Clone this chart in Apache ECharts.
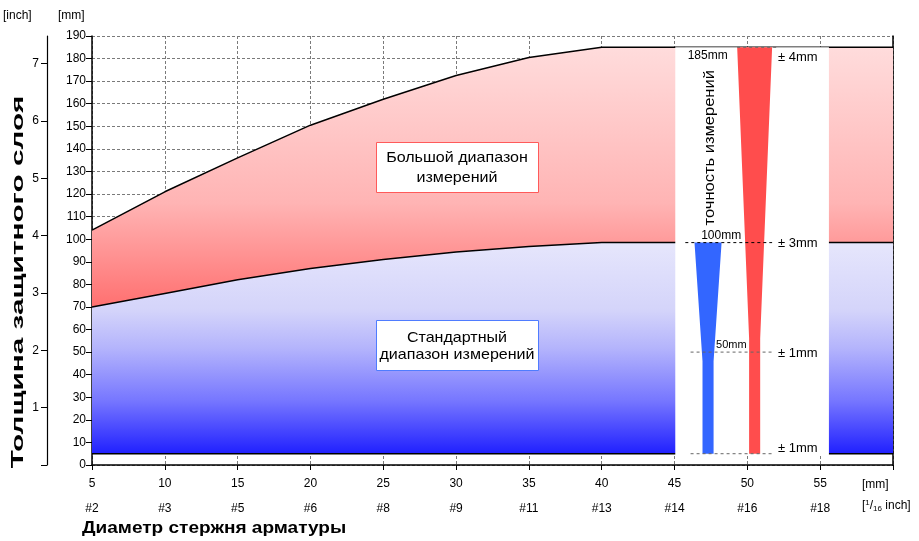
<!DOCTYPE html>
<html><head><meta charset="utf-8">
<script src="https://cdn.jsdelivr.net/npm/echarts@6/dist/echarts.min.js"></script>
<style>html,body{margin:0;padding:0;background:#fff}#c{width:919px;height:541px}</style>
</head><body><div id="c"></div>
<script>
// ---- data ----
const diameters   = [5, 10, 15, 20, 25, 30, 35, 40, 45, 50, 55, 60];
const upperLimit  = [104, 121, 136, 150.5, 162, 172.5, 180.5, 185, 185, 185, 185, 185];
const lowerLimit  = [70, 76, 82, 87, 91, 94.3, 96.8, 98.5, 98.5, 98.5, 98.5, 98.5];
const baseLimit   = [5, 5, 5, 5, 5, 5, 5, 5, 5, 5, 5, 5];
const mmTicks     = [5, 10, 15, 20, 25, 30, 35, 40, 45, 50, 55];
const barSizeLabels = ['#2', '#3', '#5', '#6', '#8', '#9', '#11', '#13', '#14', '#16', '#18'];
const inchTicks   = [0, 1, 2, 3, 4, 5, 6, 7];
const mmPerInch   = 25.4;
const accuracyDepths = [185, 98.5, 50, 5];
const accuracyLabels = ['± 4mm', '± 3mm', '± 1mm', '± 1mm'];
const depthLabels    = ['185mm', '100mm', '50mm'];
// taper profiles: [depth (mm), half width (mm of x axis)]
const stdTaper   = [[98.5, 0.93], [46, 0.38], [5, 0.38]];
const largeTaper = [[185, 1.2], [56, 0.38], [5, 0.38]];
const stdCenter = 47.3, largeCenter = 50.5;
const panelX = [45.05, 55.6], panelY = [4.4, 185];
const dashRanges = [[49.3, 52.0], [45.74, 51.7], [46.1, 51.7], [46.1, 51.7]];

const FONT = '"Liberation Sans", Arial, sans-serif';
const chart = echarts.init(document.getElementById('c'), null, {renderer: 'canvas'});

function bandSeries(name, top, bottom, stops) {
  return {
    name: name, type: 'custom', z: 2, clip: false,
    data: [[diameters[0], top[0]]],
    renderItem: function (params, api) {
      const pts = diameters.map((d, i) => api.coord([d, top[i]]))
        .concat(diameters.map((d, i) => api.coord([d, bottom[i]])).reverse());
      return {type: 'polygon', shape: {points: pts},
        style: {fill: new echarts.graphic.LinearGradient(0, 0, 0, 1, stops)}};
    }
  };
}
function boundary(name, arr) {
  return {name: name, type: 'line', z: 3, symbol: 'none', data: diameters.map((d, i) => [d, arr[i]]),
    lineStyle: {color: '#000', width: 1.5}};
}
function taperPoly(api, profile, c) {
  const left = profile.map(p => api.coord([c - p[1], p[0]]));
  const right = profile.slice().reverse().map(p => api.coord([c + p[1], p[0]]));
  return left.concat(right);
}

const option = {
  animation: false,
  backgroundColor: '#fff',
  grid: {left: 92, right: 26, top: 36, bottom: 76},
  xAxis: [{
    type: 'value', min: 5, max: 60, interval: 5, position: 'bottom',
    axisLine: {show: true, lineStyle: {color: '#000', width: 1.5}},
    axisTick: {show: true, length: 5, lineStyle: {color: '#000'}},
    axisLabel: {customValues: mmTicks, color: '#000', fontSize: 12, fontFamily: FONT, margin: 13,
      formatter: v => (v >= 60 ? '' : v)},
    splitLine: {show: true, lineStyle: {color: '#7a7a7a', type: [3, 2], width: 1}}
  }, {
    type: 'value', min: 5, max: 60, interval: 5, position: 'bottom', offset: 25,
    axisLine: {show: false}, axisTick: {show: false}, splitLine: {show: false},
    axisLabel: {customValues: mmTicks, color: '#000', fontSize: 12, fontFamily: FONT, margin: 13,
      formatter: v => { const i = mmTicks.indexOf(v); return i < 0 ? '' : barSizeLabels[i]; }}
  }],
  yAxis: [{
    type: 'value', min: 0, max: 190, interval: 10, position: 'left',
    axisLine: {show: true, lineStyle: {color: '#000', width: 1.5}},
    axisTick: {show: true, length: 6, lineStyle: {color: '#000'}},
    axisLabel: {color: '#000', fontSize: 12, fontFamily: FONT, margin: 6},
    splitLine: {show: true, lineStyle: {color: '#7a7a7a', type: [3, 2], width: 1}}
  }, {
    type: 'value', min: 0, max: 190 / mmPerInch, interval: 1, position: 'left', offset: 45,
    axisLine: {show: true, lineStyle: {color: '#000', width: 1.2}},
    axisTick: {show: true, length: 6, customValues: inchTicks, lineStyle: {color: '#000'}},
    axisLabel: {customValues: inchTicks.slice(1), color: '#000', fontSize: 12, fontFamily: FONT, margin: 8,
      formatter: v => (Number.isInteger(v) && v > 0 ? v : '')},
    splitLine: {show: false}
  }, {
    type: 'value', min: 0, max: 190, position: 'right',
    axisLine: {show: true, lineStyle: {color: '#000', width: 1.5}},
    axisTick: {show: false}, axisLabel: {show: false}, splitLine: {show: false}
  }],
  series: [
    bandSeries('standard', lowerLimit, baseLimit, [
      {offset: 0, color: '#e6e6fc'}, {offset: 0.32, color: '#d4d4fa'}, {offset: 0.5, color: '#b4b4fc'},
      {offset: 0.75, color: '#7676ff'}, {offset: 1, color: '#2020ff'}]),
    bandSeries('large', upperLimit, lowerLimit, [
      {offset: 0, color: '#ffdcdc'}, {offset: 0.6, color: '#ffb4b4'}, {offset: 1, color: '#ff7070'}]),
    boundary('upper', upperLimit),
    boundary('lower', lowerLimit),
    boundary('base', baseLimit),
    {
    name: 'accuracy', type: 'custom', z: 10, clip: false,
    data: [[50, 100]],
    renderItem: function (params, api) {
      const children = [];
      const p1 = api.coord([panelX[0], panelY[1]]);
      const p2 = api.coord([panelX[1], panelY[0]]);
      children.push({type: 'rect', shape: {x: p1[0], y: p1[1], width: p2[0] - p1[0], height: p2[1] - p1[1]},
        style: {fill: '#fff'}});
      children.push({type: 'polygon', shape: {points: taperPoly(api, stdTaper, stdCenter)}, style: {fill: '#3366ff'}});
      children.push({type: 'polygon', shape: {points: taperPoly(api, largeTaper, largeCenter)}, style: {fill: '#ff4d4d'}});
      accuracyDepths.forEach((d, i) => {
        const a = api.coord([dashRanges[i][0], d]);
        const b = api.coord([dashRanges[i][1], d]);
        children.push({type: 'line', shape: {x1: a[0], y1: a[1], x2: b[0], y2: b[1]},
          style: {stroke: i === 1 ? '#000' : '#666', lineWidth: 1, lineDash: [3, 3]}});
        const t = api.coord([52.1, d]);
        children.push({type: 'text', x: t[0], y: t[1] + (i === 0 ? 10 : i === 3 ? -5 : 1),
          style: {text: accuracyLabels[i], fill: '#000', font: '13px ' + FONT, align: 'left', verticalAlign: 'middle'}});
      });
      const l0 = api.coord([45.9, accuracyDepths[0]]);
      children.push({type: 'text', x: l0[0], y: l0[1] + 8,
        style: {text: depthLabels[0], fill: '#000', font: '12px ' + FONT, align: 'left', verticalAlign: 'middle'}});
      const l1 = api.coord([48.2, accuracyDepths[1]]);
      children.push({type: 'text', x: l1[0], y: l1[1] - 7,
        style: {text: depthLabels[1], fill: '#000', font: '12px ' + FONT, align: 'center', verticalAlign: 'middle'}});
      const l2 = api.coord([48.9, accuracyDepths[2]]);
      children.push({type: 'text', x: l2[0], y: l2[1] - 7,
        style: {text: depthLabels[2], fill: '#000', font: '11px ' + FONT, align: 'center', verticalAlign: 'middle'}});
      const vt = api.coord([47.3, 140.5]);
      children.push({type: 'text', x: vt[0] + 2, y: vt[1], rotation: Math.PI / 2, scaleX: 1.1,
        style: {text: 'точность измерений', fill: '#000', font: '15px ' + FONT, align: 'center', verticalAlign: 'middle'}});
      return {type: 'group', children: children};
    }
  }],
  graphic: [
    {type: 'text', left: 3, top: 10, style: {text: '[inch]', fill: '#000', font: '12px ' + FONT}},
    {type: 'text', left: 58, top: 10, style: {text: '[mm]', fill: '#000', font: '12px ' + FONT}},
    {type: 'text', x: 18, y: 282, rotation: Math.PI / 2, scaleX: 1.75,
      style: {text: 'Толщина защитного слоя', fill: '#000', font: 'bold 17px ' + FONT, align: 'center', verticalAlign: 'middle'}},
    {type: 'text', x: 82, y: 528, scaleX: 1.12,
      style: {text: 'Диаметр стержня арматуры', fill: '#000', font: 'bold 17px ' + FONT, align: 'left', verticalAlign: 'middle'}},
    {type: 'text', left: 862, top: 479, style: {text: '[mm]', fill: '#000', font: '12px ' + FONT}},
    {type: 'text', left: 862, top: 499, style: {
      text: '[{sup|1}/{sub|16} inch]', fill: '#000', font: '12px ' + FONT,
      rich: {sup: {fontSize: 8, verticalAlign: 'top', padding: [0, 0, 6, 0], fontFamily: FONT},
             sub: {fontSize: 8, padding: [6, 0, 0, 0], fontFamily: FONT}}}},
    {type: 'rect', z: 20, shape: {x: 376.5, y: 142.5, width: 162, height: 50},
      style: {fill: '#fff', stroke: '#ff5a5a', lineWidth: 1}},
    {type: 'text', z: 21, x: 457, y: 168, scaleX: 1.07, style: {text: 'Большой диапазон\nизмерений', fill: '#000',
      font: '15px ' + FONT, align: 'center', verticalAlign: 'middle', lineHeight: 20}},
    {type: 'rect', z: 20, shape: {x: 376.5, y: 320.5, width: 162, height: 50},
      style: {fill: '#fff', stroke: '#4f7cff', lineWidth: 1}},
    {type: 'text', z: 21, x: 457, y: 346, scaleX: 1.07, style: {text: 'Стандартный\nдиапазон измерений', fill: '#000',
      font: '15px ' + FONT, align: 'center', verticalAlign: 'middle', lineHeight: 17}}
  ]
};
chart.setOption(option);
</script></body></html>
